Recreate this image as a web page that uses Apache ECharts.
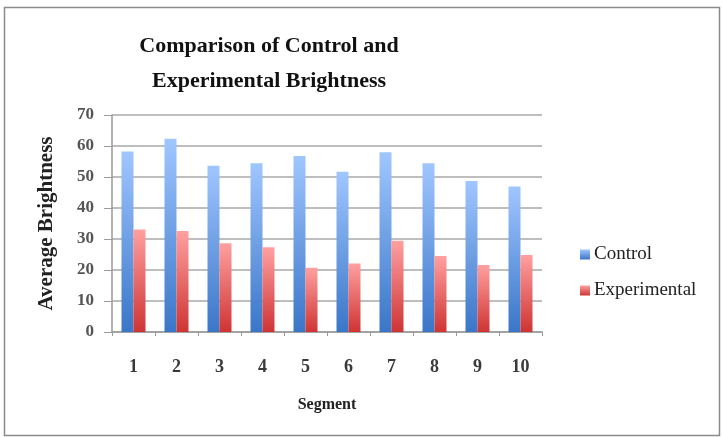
<!DOCTYPE html>
<html><head><meta charset="utf-8">
<script src="https://cdn.jsdelivr.net/npm/echarts@6/dist/echarts.min.js"></script>
<style>html,body{margin:0;padding:0;background:#fff}#c{width:722px;height:437px}</style>
</head><body><div id="c"></div>
<script>
const categories = ['1','2','3','4','5','6','7','8','9','10'];
const controlValues = [58.2, 62.3, 53.6, 54.4, 56.8, 51.7, 58.0, 54.4, 48.7, 46.9];
const experimentalValues = [33.1, 32.6, 28.6, 27.3, 20.7, 22.1, 29.4, 24.5, 21.6, 24.8];
const titleText = 'Comparison of Control and\nExperimental Brightness';

const font = '"Liberation Serif", "DejaVu Serif", serif';
const chart = echarts.init(document.getElementById('c'));
const grad = (top, bottom) => new echarts.graphic.LinearGradient(0,0,0,1,[{offset:0,color:top},{offset:1,color:bottom}]);
chart.setOption({
  animation:false,
  backgroundColor:'#fff',
  graphic:[{type:'rect',shape:{x:4.5,y:7.5,width:715,height:428},style:{fill:'none',stroke:'#8a8a8a',lineWidth:1.5}}],
  title:{text:titleText,left:264,textAlign:'center',top:24,textStyle:{fontFamily:font,fontWeight:'bold',fontSize:22,lineHeight:35,color:'#111'}},
  legend:{orient:'vertical',left:575,top:240,itemGap:17,itemWidth:10,itemHeight:10,icon:'rect',
    textStyle:{fontFamily:font,fontSize:19,color:'#222',padding:[0,0,0,-1]},
    data:['Control','Experimental']},
  grid:{left:112,right:180,top:115,bottom:105},
  xAxis:{type:'category',data:categories,name:'Segment',nameLocation:'middle',nameGap:65,
    nameTextStyle:{fontFamily:font,fontWeight:'bold',fontSize:16,color:'#222'},
    axisLine:{lineStyle:{color:'#9a9a9a',width:1.5}},
    axisTick:{show:true,length:4,lineStyle:{color:'#9a9a9a'}},
    axisLabel:{fontFamily:font,fontSize:18,fontWeight:'bold',color:'#3a3a3a',margin:26}},
  yAxis:{type:'value',min:0,max:70,interval:10,name:'Average Brightness',nameLocation:'middle',nameGap:55,
    nameTextStyle:{fontFamily:font,fontWeight:'bold',fontSize:21,color:'#222'},
    axisLine:{show:true,lineStyle:{color:'#9a9a9a',width:1.5}},
    axisTick:{show:true,length:8,lineStyle:{color:'#9a9a9a'}},
    splitLine:{lineStyle:{color:'#a8a8a8',width:1.5}},
    axisLabel:{fontFamily:font,fontSize:17,fontWeight:'bold',color:'#555',margin:18}},
  series:[
    {name:'Control',type:'bar',data:controlValues,barWidth:12,barGap:'0%',
      itemStyle:{color:grad('#a0c6ff','#3a76c8')}},
    {name:'Experimental',type:'bar',data:experimentalValues,barWidth:12,
      itemStyle:{color:grad('#ffa0a0','#cf3434')}}
  ]
});
</script></body></html>
